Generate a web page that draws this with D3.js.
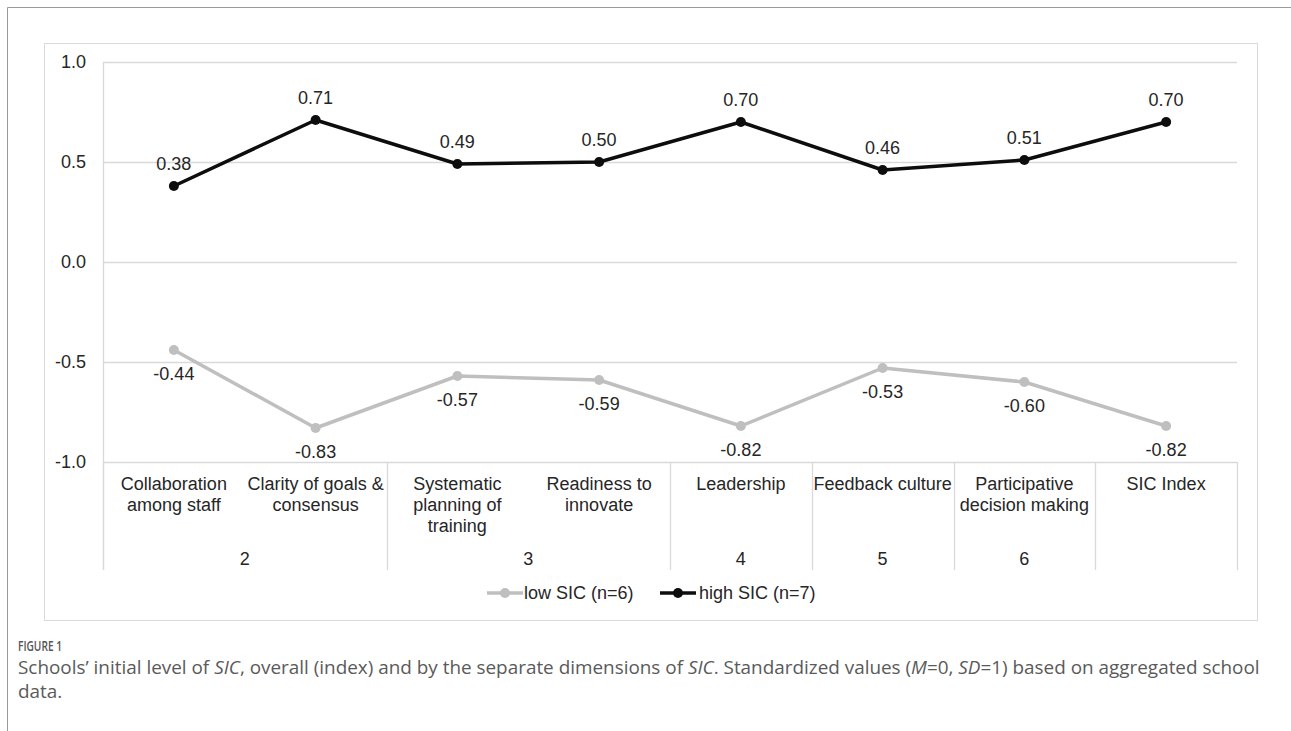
<!DOCTYPE html>
<html>
<head>
<meta charset="utf-8">
<script src="https://cdn.jsdelivr.net/npm/d3@7"></script>
<style>
  body { margin: 0; background: #fff; }
  svg { display: block; }
</style>
</head>
<body>
<svg id="chart" width="1291" height="731"></svg>
<script>
// data
const categories = ["Collaboration among staff", "Clarity of goals & consensus", "Systematic planning of training",
  "Readiness to innovate", "Leadership", "Feedback culture", "Participative decision making", "SIC Index"];
const categoryLines = [["Collaboration", "among staff"], ["Clarity of goals &", "consensus"],
  ["Systematic", "planning of", "training"], ["Readiness to", "innovate"], ["Leadership"],
  ["Feedback culture"], ["Participative", "decision making"], ["SIC Index"]];
const groupLabels = ["2", "3", "4", "5", "6", ""];
const groupStart = [0, 2, 4, 5, 6, 7];
const groupEnd = [1, 3, 4, 5, 6, 7];
const lowSIC = [-0.44, -0.83, -0.57, -0.59, -0.82, -0.53, -0.60, -0.82];
const highSIC = [0.38, 0.71, 0.49, 0.50, 0.70, 0.46, 0.51, 0.70];
const yTicks = [-1, -0.5, 0, 0.5, 1];

const svg = d3.select("#chart");
const font = "'Liberation Sans', Arial, sans-serif";
const fs = 18;
const plot = {left: 103, right: 1237, top: 62, bottom: 462, axisBottom: 570};
// plain hyphen instead of the unicode minus d3 uses
const fmt = f => d => d3.format(f)(d).replace("\u2212", "-");

// page border + chart frame
svg.append("path").attr("d", "M7.5,731 V7.5 H1291").attr("fill", "none").attr("stroke", "#999").attr("stroke-width", 1);
svg.append("rect").attr("x", 44.5).attr("y", 43.5).attr("width", 1213).attr("height", 577)
  .attr("fill", "none").attr("stroke", "#d9d9d9").attr("stroke-width", 1);

const x = d3.scaleBand().domain(d3.range(categories.length)).range([plot.left, plot.right]).padding(0);
const cx = i => x(i) + x.bandwidth() / 2;
const y = d3.scaleLinear().domain([-1, 1]).range([plot.bottom, plot.top]);

// gridlines
svg.append("g").selectAll("line").data(yTicks).join("line")
  .attr("x1", plot.left).attr("x2", plot.right)
  .attr("y1", d => Math.round(y(d)) + 0.5).attr("y2", d => Math.round(y(d)) + 0.5)
  .attr("stroke", "#d9d9d9").attr("stroke-width", 1.3);

// left axis line
svg.append("line").attr("x1", plot.left + 0.5).attr("x2", plot.left + 0.5)
  .attr("y1", plot.top).attr("y2", plot.axisBottom).attr("stroke", "#d9d9d9").attr("stroke-width", 1.3);

// group separators under the category axis
const seps = groupStart.map(s => x(s)).concat([plot.right]);
svg.append("g").selectAll("line").data(seps).join("line")
  .attr("x1", d => Math.round(d) + 0.5).attr("x2", d => Math.round(d) + 0.5)
  .attr("y1", plot.bottom).attr("y2", plot.axisBottom)
  .attr("stroke", "#d9d9d9").attr("stroke-width", 1.3);

// y axis
const yAxis = svg.append("g").attr("transform", `translate(${plot.left},0)`)
  .call(d3.axisLeft(y).tickValues(yTicks).tickFormat(fmt(".1f")).tickSize(0).tickPadding(17));
yAxis.select(".domain").remove();
yAxis.selectAll("text").attr("font-family", font).attr("font-size", fs).attr("fill", "#262626");

// category labels
const cat = svg.append("g");
categoryLines.forEach((lines, i) => {
  const t = cat.append("text").attr("x", cx(i)).attr("y", 490)
    .attr("text-anchor", "middle").attr("font-family", font).attr("font-size", fs).attr("fill", "#262626");
  lines.forEach((l, k) => t.append("tspan").attr("x", cx(i)).attr("dy", k === 0 ? 0 : 21).text(l));
});

// group labels
svg.append("g").selectAll("text").data(groupLabels).join("text")
  .attr("x", (d, i) => (x(groupStart[i]) + x(groupEnd[i]) + x.bandwidth()) / 2)
  .attr("y", 565).attr("text-anchor", "middle")
  .attr("font-family", font).attr("font-size", fs).attr("fill", "#262626")
  .text(d => d);

// series
const line = d3.line().x((d, i) => cx(i)).y(d => y(d));
const series = [
  {name: "low SIC (n=6)", values: lowSIC, color: "#bfbfbf", below: true},
  {name: "high SIC (n=7)", values: highSIC, color: "#0d0d0d", below: false}
];
series.forEach(s => {
  const g = svg.append("g");
  g.append("path").datum(s.values).attr("d", line).attr("fill", "none")
    .attr("stroke", s.color).attr("stroke-width", 3.5).attr("stroke-linejoin", "round");
  g.selectAll("circle").data(s.values).join("circle")
    .attr("cx", (d, i) => cx(i)).attr("cy", d => y(d)).attr("r", 5).attr("fill", s.color);
  g.selectAll("text").data(s.values).join("text")
    .attr("x", (d, i) => cx(i)).attr("y", d => y(d) + (s.below ? 30 : -16))
    .attr("text-anchor", "middle").attr("font-family", font).attr("font-size", fs).attr("fill", "#262626")
    .text(fmt(".2f"));
});

// legend
const legendPos = [[487, 525], [660, 700]];
series.forEach((s, i) => {
  const [lx, tx] = legendPos[i];
  const g = svg.append("g");
  g.append("line").attr("x1", lx).attr("x2", lx + 36).attr("y1", 593).attr("y2", 593)
    .attr("stroke", s.color).attr("stroke-width", 3.5);
  g.append("circle").attr("cx", lx + 18).attr("cy", 593).attr("r", 5).attr("fill", s.color);
  g.append("text").attr("x", tx - 1).attr("y", 599).attr("font-family", font).attr("font-size", fs)
    .attr("fill", "#262626").text(s.name);
});

// caption
const capFont = "'Open Sans', 'Noto Sans', sans-serif";
svg.append("text").attr("x", 18).attr("y", 651).attr("font-family", capFont).attr("font-size", 14.5)
  .attr("font-weight", 600).attr("fill", "#555").attr("textLength", 44).attr("lengthAdjust", "spacingAndGlyphs")
  .text("FIGURE 1");
const cap = svg.append("text").attr("x", 18).attr("y", 674).attr("font-family", capFont)
  .attr("font-size", 18.9).attr("fill", "#5a5a5a");
const capParts = [["Schools\u2019 initial level of ", false], ["SIC", true], [", overall (index) and by the separate dimensions of ", false],
  ["SIC", true], [". Standardized values (", false], ["M", true], ["=0, ", false], ["SD", true], ["=1) based on aggregated school", false]];
capParts.forEach(p => cap.append("tspan").attr("font-style", p[1] ? "italic" : "normal").text(p[0]));
svg.append("text").attr("x", 18).attr("y", 698).attr("font-family", capFont).attr("font-size", 18.9)
  .attr("fill", "#5a5a5a").text("data.");
</script>
</body>
</html>
